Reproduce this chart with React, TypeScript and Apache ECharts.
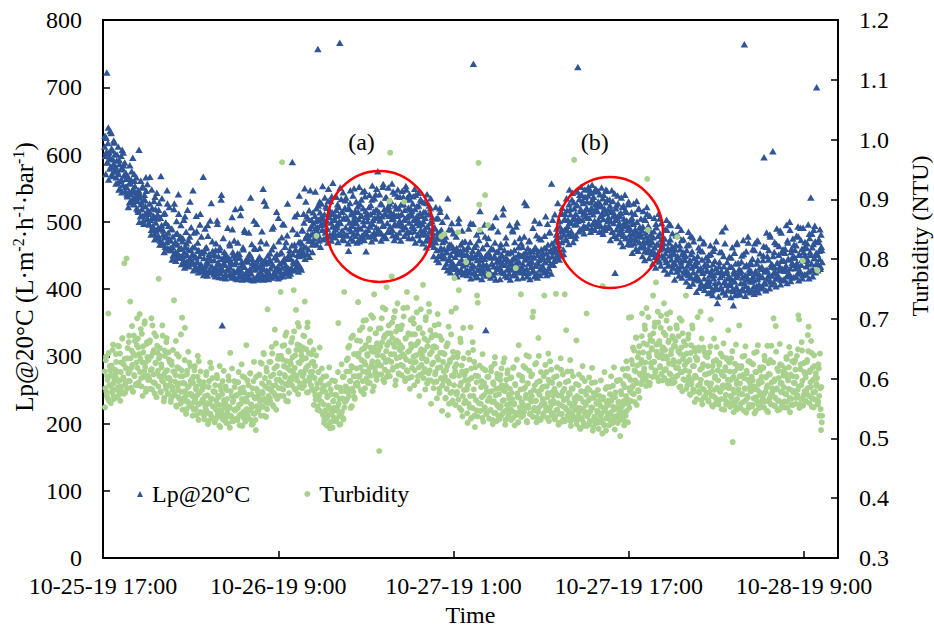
import { useEffect, useRef } from "react";
import * as echarts from "echarts";

// Two interleaved reading streams, each every 4 minutes (stream B 2 minutes after A).
// Time is counted in hours after 10-25-19 17:00.
const FIRST_READING_H = 0.15;
const READING_STEP_H = 4 / 60;
const TIME_AXIS_END_H = 67.1;

// Time axis ticks (hours after start) and their labels
const timeTickHours = [0, 16, 32, 48, 64];
const timeTickLabels = ["10-25-19 17:00", "10-26-19 9:00", "10-27-19 1:00", "10-27-19 17:00", "10-28-19 9:00"];

// Lp@20°C (L·m-2·h-1·bar-1), stream A, one line per hour
const lpA1 = [
  612, 598, 625, 722, 588, 640, 603, 579, 594, 632, 571, 606, 586, 618, 575,
  582, 566, 600, 558, 571, 592, 549, 578, 563, 607, 555, 584, 569, 546, 573,
  552, 538, 567, 545, 529, 558, 541, 575, 533, 549, 526, 561, 537, 544, 520,
  531, 515, 607, 542, 508, 526, 519, 553, 502, 534, 511, 523, 546, 505, 517,
  512, 496, 567, 503, 488, 521, 494, 509, 482, 537, 499, 476, 505, 491, 518,
  489, 472, 568, 495, 466, 481, 512, 477, 463, 498, 470, 527, 484, 458, 475,
  472, 458, 490, 463, 451, 519, 468, 455, 482, 447, 466, 541, 460, 449, 478,
  461, 447, 476, 442, 455, 508, 439, 468, 451, 436, 472, 445, 530, 458, 441,
  452, 547, 438, 463, 430, 447, 486, 441, 458, 433, 449, 512, 437, 455, 429,
  567, 446, 432, 461, 425, 441, 495, 438, 452, 429, 443, 528, 434, 457, 427,
  443, 431, 458, 424, 502, 437, 449, 426, 462, 433, 540, 346, 428, 439, 455,
  436, 452, 421, 444, 429, 446, 468, 432, 441, 423, 489, 450, 427, 437, 519,
  440, 425, 453, 431, 419, 447, 510, 428, 436, 421, 459, 433, 485, 442, 424,
  427, 441, 418, 452, 430, 536, 423, 445, 434, 416, 461, 429, 438, 497, 420,
  432, 419, 448, 426, 471, 437, 422, 549, 430, 417, 443, 524, 428, 439, 421,
  425, 444, 431, 418, 459, 435, 493, 424, 447, 429, 420, 452, 433, 506, 428,
];
const lpA2 = [
  438, 426, 455, 432, 497, 441, 423, 463, 436, 429, 480, 445, 431, 452, 427,
  445, 431, 589, 452, 438, 466, 429, 458, 442, 512, 436, 470, 449, 433, 461,
  468, 487, 455, 499, 550, 476, 462, 508, 481, 459, 517, 490, 472, 503, 466,
  482, 498, 475, 509, 491, 520, 486, 757, 503, 478, 514, 495, 527, 488, 506,
  496, 511, 484, 523, 502, 490, 531, 507, 478, 516, 499, 538, 493, 512, 485,
  503, 489, 518, 496, 526, 481, 510, 766, 498, 534, 487, 515, 505, 473, 521,
  492, 507, 480, 519, 457, 499, 528, 486, 511, 494, 539, 482, 503, 516, 489,
  498, 483, 515, 504, 471, 526, 490, 509, 478, 520, 495, 546, 485, 456, 512,
  501, 488, 522, 494, 511, 479, 533, 497, 515, 484, 506, 541, 492, 518, 575,
  489, 514, 502, 527, 483, 508, 552, 495, 519, 478, 511, 536, 498, 485, 523,
  517, 493, 531, 504, 488, 545, 512, 497, 524, 481, 509, 538, 495, 520, 502,
  498, 526, 511, 489, 537, 503, 518, 492, 548, 507, 485, 521, 499, 533, 510,
  512, 494, 527, 503, 486, 519, 540, 498, 509, 481, 524, 495, 513, 488, 531,
  497, 481, 515, 489, 506, 472, 528, 493, 478, 511, 486, 520, 467, 501, 484,
  478, 463, 492, 470, 505, 458, 484, 449, 475, 520, 461, 488, 453, 470, 446,
  460, 447, 478, 438, 455, 535, 443, 466, 432, 451, 489, 440, 462, 436, 457,
];
const lpA3 = [
  448, 433, 461, 426, 452, 505, 439, 457, 429, 444, 470, 435, 451, 424, 441,
  437, 452, 428, 463, 440, 425, 498, 446, 431, 457, 735, 434, 448, 422, 466,
  443, 429, 456, 437, 516, 424, 449, 432, 461, 427, 445, 478, 339, 436, 452,
  431, 454, 426, 447, 492, 438, 421, 459, 434, 449, 425, 507, 441, 430, 456,
  446, 433, 462, 427, 451, 439, 520, 424, 445, 436, 468, 429, 453, 442, 423,
  438, 455, 429, 444, 486, 433, 458, 421, 447, 436, 499, 428, 452, 440, 425,
  450, 431, 463, 437, 426, 529, 444, 455, 430, 448, 424, 471, 439, 457, 433,
  441, 456, 428, 447, 502, 435, 460, 423, 451, 438, 476, 429, 445, 459, 434,
  447, 432, 461, 440, 508, 453, 427, 466, 443, 484, 436, 458, 557, 449, 437,
  455, 442, 472, 460, 490, 448, 478, 465, 501, 453, 486, 470, 512, 459, 481,
  488, 503, 475, 517, 494, 482, 526, 499, 511, 486, 533, 504, 479, 520, 496,
  512, 497, 525, 730, 506, 534, 489, 519, 541, 503, 528, 494, 515, 537, 508,
  521, 506, 539, 497, 548, 515, 529, 490, 533, 511, 545, 502, 526, 518, 499,
  516, 530, 498, 541, 509, 523, 487, 535, 504, 518, 493, 529, 513, 546, 501,
  507, 492, 524, 501, 515, 486, 531, 498, 512, 424, 520, 489, 506, 527, 494,
  498, 484, 513, 491, 522, 479, 505, 495, 517, 476, 502, 488, 526, 493, 481,
];
const lpA4 = [
  489, 475, 506, 482, 497, 468, 512, 486, 473, 500, 479, 519, 470, 492, 483,
  478, 462, 493, 471, 504, 457, 484, 469, 512, 474, 460, 489, 466, 481, 455,
  470, 455, 486, 462, 448, 497, 466, 452, 479, 443, 505, 459, 474, 450, 463,
  461, 447, 475, 453, 440, 488, 458, 436, 469, 450, 495, 444, 463, 437, 455,
  452, 438, 466, 444, 431, 480, 447, 429, 459, 441, 473, 434, 455, 426, 449,
  443, 427, 458, 435, 421, 466, 439, 418, 452, 432, 477, 425, 446, 416, 437,
  435, 420, 449, 428, 413, 458, 431, 409, 444, 424, 468, 416, 437, 405, 427,
  428, 412, 443, 420, 405, 452, 423, 398, 437, 416, 461, 409, 431, 402, 379,
  425, 410, 440, 418, 403, 455, 421, 396, 434, 412, 492, 406, 428, 399, 416,
  419, 433, 406, 447, 414, 400, 376, 427, 411, 438, 403, 469, 420, 396, 430,
  424, 409, 441, 417, 398, 452, 764, 421, 405, 436, 414, 478, 401, 429, 412,
  427, 411, 445, 419, 404, 458, 423, 399, 438, 415, 471, 407, 432, 418, 402,
  433, 418, 450, 596, 426, 408, 463, 429, 414, 444, 422, 481, 411, 437, 420,
  605, 424, 455, 432, 416, 467, 439, 421, 451, 428, 487, 414, 443, 430, 459,
  442, 427, 460, 435, 419, 472, 445, 424, 500, 431, 455, 417, 448, 436, 466,
  447, 431, 465, 439, 423, 478, 452, 428, 491, 436, 460, 421, 455, 442, 470,
  450, 434, 468, 443, 426, 482, 455, 536, 438, 462, 429, 488, 446, 471, 437,
  700, 452, 437, 474, 445, 430, 481, 458,
];

// Lp@20°C, stream B, one line per hour
const lpB1 = [
  628, 571, 604, 589, 617, 563, 597, 635, 582, 609, 568, 593, 621, 577, 601,
  557, 591, 575, 612, 548, 586, 561, 598, 544, 579, 603, 569, 588, 552, 564,
  541, 568, 522, 557, 584, 531, 562, 546, 595, 527, 571, 553, 534, 566, 539,
  518, 547, 500, 536, 561, 529, 509, 551, 497, 540, 532, 566, 512, 556, 504,
  498, 527, 514, 481, 548, 506, 489, 531, 474, 519, 486, 543, 511, 479, 528,
  466, 506, 491, 535, 469, 487, 455, 513, 499, 479, 547, 461, 494, 522, 460,
  461, 489, 444, 478, 450, 527, 470, 442, 501, 483, 453, 512, 475, 447, 495,
  437, 471, 449, 503, 432, 463, 485, 441, 518, 459, 434, 478, 446, 492, 438,
  462, 428, 484, 450, 433, 509, 440, 469, 425, 457, 496, 431, 478, 454, 427,
  421, 456, 490, 435, 462, 420, 479, 448, 427, 502, 444, 425, 471, 451, 422,
  452, 419, 468, 431, 497, 440, 418, 458, 424, 533, 445, 417, 476, 447, 421,
  416, 450, 429, 491, 443, 421, 465, 438, 417, 507, 455, 419, 472, 446, 416,
  447, 415, 469, 426, 452, 419, 521, 440, 414, 462, 435, 488, 417, 443, 415,
  418, 446, 484, 425, 451, 414, 467, 439, 413, 502, 434, 460, 416, 441, 414,
  445, 417, 461, 433, 416, 486, 442, 414, 531, 438, 418, 468, 424, 450, 415,
  420, 453, 441, 417, 490, 436, 464, 419, 448, 427, 515, 444, 416, 471, 418,
];
const lpB2 = [
  453, 421, 477, 441, 419, 496, 446, 424, 470, 432, 527, 449, 420, 458, 423,
  431, 465, 489, 441, 428, 508, 459, 433, 482, 451, 426, 539, 456, 470, 429,
  488, 451, 512, 463, 445, 530, 479, 452, 505, 472, 448, 547, 481, 494, 455,
  514, 469, 483, 545, 501, 466, 492, 524, 472, 530, 463, 507, 498, 553, 474,
  499, 536, 476, 490, 521, 469, 549, 508, 481, 531, 472, 514, 558, 479, 505,
  477, 509, 537, 492, 470, 522, 501, 551, 481, 515, 474, 544, 506, 482, 532,
  536, 480, 505, 468, 521, 490, 547, 475, 514, 500, 472, 550, 508, 479, 530,
  469, 523, 491, 552, 476, 509, 533, 480, 545, 501, 473, 538, 516, 481, 507,
  511, 478, 540, 493, 525, 471, 554, 503, 482, 535, 475, 518, 549, 484, 508,
  483, 541, 504, 472, 526, 494, 556, 479, 512, 536, 476, 519, 485, 551, 509,
  527, 486, 513, 557, 480, 505, 473, 542, 495, 520, 477, 548, 510, 484, 537,
  472, 512, 546, 494, 526, 479, 504, 553, 483, 536, 509, 476, 541, 485, 519,
  516, 476, 538, 491, 549, 469, 506, 523, 480, 543, 501, 473, 533, 482, 509,
  468, 501, 529, 483, 514, 462, 541, 493, 474, 524, 498, 535, 466, 507, 472,
  449, 490, 470, 522, 444, 478, 506, 440, 484, 515, 451, 460, 500, 446, 475,
  433, 472, 455, 508, 428, 461, 489, 444, 425, 466, 498, 435, 483, 458, 430,
];
const lpB3 = [
  431, 478, 419, 455, 498, 440, 425, 466, 452, 487, 422, 460, 437, 471, 428,
  459, 421, 444, 490, 427, 470, 416, 451, 436, 497, 424, 463, 448, 418, 481,
  418, 452, 473, 429, 443, 486, 415, 461, 437, 423, 496, 449, 420, 467, 434,
  476, 426, 450, 417, 461, 438, 494, 421, 447, 469, 414, 455, 433, 486, 442,
  441, 415, 467, 449, 425, 511, 436, 458, 420, 477, 446, 418, 454, 432, 495,
  414, 455, 438, 488, 421, 447, 470, 426, 493, 440, 416, 462, 431, 476, 449,
  468, 433, 417, 452, 478, 424, 446, 525, 419, 461, 438, 472, 415, 450, 441,
  426, 491, 448, 419, 462, 435, 480, 417, 456, 443, 498, 421, 474, 451, 430,
  453, 425, 479, 440, 461, 421, 497, 448, 431, 485, 456, 423, 468, 503, 436,
  463, 511, 447, 481, 455, 528, 470, 444, 493, 478, 450, 521, 487, 452, 504,
  512, 473, 535, 488, 503, 467, 548, 519, 479, 498, 543, 470, 529, 506, 476,
  480, 525, 545, 501, 486, 540, 516, 552, 489, 532, 511, 483, 548, 492, 519,
  530, 491, 552, 506, 543, 485, 521, 555, 497, 537, 516, 488, 549, 494, 524,
  546, 503, 485, 527, 494, 551, 512, 482, 540, 520, 488, 548, 491, 533, 517,
  494, 533, 473, 518, 547, 485, 508, 479, 542, 503, 524, 476, 539, 482, 511,
  509, 470, 536, 485, 464, 524, 499, 540, 476, 515, 494, 467, 530, 473, 502,
];
const lpB4 = [
  466, 514, 454, 499, 527, 475, 489, 460, 531, 484, 457, 520, 492, 463, 505,
  488, 449, 516, 464, 443, 503, 478, 522, 455, 494, 446, 509, 473, 481, 452,
  438, 477, 506, 453, 432, 492, 444, 467, 512, 441, 483, 435, 498, 470, 462,
  468, 429, 489, 444, 503, 423, 461, 435, 497, 474, 426, 458, 483, 432, 453,
  414, 459, 480, 426, 449, 494, 420, 465, 435, 488, 417, 452, 474, 444, 423,
  450, 411, 465, 426, 485, 405, 443, 479, 417, 456, 408, 471, 435, 414, 440,
  396, 441, 417, 462, 402, 476, 431, 405, 456, 426, 470, 399, 434, 447, 408,
  436, 394, 451, 412, 465, 397, 429, 391, 457, 421, 442, 403, 471, 400, 426,
  389, 434, 455, 401, 427, 486, 395, 449, 410, 468, 392, 424, 440, 398, 419,
  448, 409, 388, 433, 462, 397, 423, 454, 391, 418, 467, 400, 439, 394, 426,
  392, 427, 450, 401, 473, 410, 434, 390, 456, 419, 398, 469, 424, 395, 440,
  437, 398, 459, 413, 393, 468, 427, 404, 472, 443, 395, 422, 453, 401, 430,
  404, 443, 464, 410, 428, 398, 484, 449, 419, 458, 401, 478, 433, 407, 436,
  449, 410, 470, 425, 404, 490, 439, 416, 464, 434, 407, 484, 455, 413, 442,
  415, 454, 430, 495, 409, 469, 444, 421, 488, 412, 460, 439, 475, 418, 447,
  458, 419, 479, 434, 493, 413, 451, 425, 473, 443, 416, 491, 448, 422, 464,
  422, 461, 437, 496, 416, 476, 451, 428, 482, 419, 467, 446, 494, 425, 454,
  451, 428, 470, 457, 489, 433, 463, 440,
];

// Turbidity (NTU), stream A, one line per hour
const turbA1 = [
  0.612, 0.584, 0.637, 0.571, 0.598, 0.709, 0.563, 0.621, 0.589, 0.605, 0.577, 0.648, 0.592, 0.566, 0.615,
  0.603, 0.628, 0.581, 0.655, 0.596, 0.573, 0.642, 0.611, 0.587, 0.667, 0.599, 0.624, 0.793, 0.576, 0.618,
  0.801, 0.634, 0.596, 0.661, 0.612, 0.729, 0.585, 0.647, 0.623, 0.578, 0.672, 0.604, 0.639, 0.591, 0.656,
  0.618, 0.652, 0.589, 0.708, 0.633, 0.601, 0.675, 0.571, 0.644, 0.612, 0.696, 0.627, 0.583, 0.661, 0.605,
  0.631, 0.598, 0.664, 0.614, 0.701, 0.582, 0.643, 0.607, 0.676, 0.592, 0.627, 0.569, 0.655, 0.613, 0.767,
  0.604, 0.638, 0.577, 0.619, 0.689, 0.595, 0.562, 0.647, 0.611, 0.583, 0.668, 0.601, 0.574, 0.632, 0.589,
  0.597, 0.566, 0.623, 0.581, 0.612, 0.731, 0.574, 0.606, 0.555, 0.641, 0.588, 0.569, 0.617, 0.592, 0.558,
  0.578, 0.702, 0.604, 0.563, 0.592, 0.685, 0.571, 0.549, 0.613, 0.586, 0.559, 0.627, 0.574, 0.596, 0.553,
  0.571, 0.593, 0.548, 0.614, 0.565, 0.582, 0.539, 0.603, 0.557, 0.629, 0.576, 0.544, 0.591, 0.562, 0.583,
  0.561, 0.538, 0.587, 0.553, 0.606, 0.545, 0.572, 0.529, 0.596, 0.558, 0.541, 0.618, 0.566, 0.533, 0.579,
  0.554, 0.578, 0.532, 0.563, 0.601, 0.541, 0.569, 0.521, 0.588, 0.547, 0.535, 0.574, 0.556, 0.613, 0.538,
  0.559, 0.534, 0.581, 0.546, 0.525, 0.597, 0.552, 0.643, 0.538, 0.571, 0.529, 0.564, 0.548, 0.586, 0.531,
  0.549, 0.572, 0.531, 0.594, 0.556, 0.522, 0.583, 0.541, 0.566, 0.604, 0.535, 0.577, 0.544, 0.562, 0.656,
  0.562, 0.538, 0.589, 0.547, 0.609, 0.531, 0.574, 0.552, 0.524, 0.596, 0.541, 0.567, 0.514, 0.583, 0.545,
  0.571, 0.549, 0.606, 0.562, 0.538, 0.625, 0.578, 0.553, 0.641, 0.566, 0.587, 0.536, 0.612, 0.716, 0.559,
  0.594, 0.567, 0.628, 0.581, 0.653, 0.556, 0.607, 0.576, 0.682, 0.589, 0.548, 0.621, 0.571, 0.638, 0.598,
];
const turbA2 = [
  0.609, 0.745, 0.584, 0.962, 0.632, 0.571, 0.656, 0.603, 0.591, 0.677, 0.618, 0.562, 0.645, 0.596, 0.629,
  0.624, 0.598, 0.668, 0.611, 0.748, 0.583, 0.639, 0.715, 0.605, 0.657, 0.574, 0.687, 0.626, 0.592, 0.646,
  0.631, 0.604, 0.672, 0.588, 0.729, 0.615, 0.649, 0.577, 0.694, 0.622, 0.596, 0.661, 0.611, 0.641, 0.582,
  0.603, 0.648, 0.579, 0.621, 0.565, 0.839, 0.592, 0.554, 0.611, 0.573, 0.546, 0.598, 0.561, 0.583, 0.539,
  0.557, 0.531, 0.578, 0.546, 0.522, 0.569, 0.538, 0.591, 0.551, 0.527, 0.574, 0.543, 0.518, 0.562, 0.535,
  0.548, 0.573, 0.529, 0.586, 0.553, 0.693, 0.537, 0.566, 0.524, 0.579, 0.545, 0.603, 0.532, 0.745, 0.561,
  0.587, 0.612, 0.566, 0.634, 0.578, 0.655, 0.596, 0.551, 0.621, 0.583, 0.672, 0.604, 0.569, 0.641, 0.592,
  0.617, 0.593, 0.728, 0.642, 0.605, 0.663, 0.581, 0.631, 0.686, 0.612, 0.574, 0.651, 0.624, 0.698, 0.601,
  0.638, 0.612, 0.667, 0.593, 0.652, 0.706, 0.624, 0.579, 0.645, 0.741, 0.618, 0.676, 0.603, 0.659, 0.628,
  0.647, 0.479, 0.622, 0.684, 0.607, 0.661, 0.719, 0.635, 0.594, 0.673, 0.628, 0.753, 0.656, 0.611, 0.689,
  0.897, 0.978, 0.641, 0.771, 0.668, 0.618, 0.702, 0.653, 0.589, 0.679, 0.634, 0.726, 0.661, 0.607, 0.648,
  0.656, 0.623, 0.689, 0.641, 0.718, 0.896, 0.601, 0.667, 0.632, 0.745, 0.612, 0.676, 0.646, 0.583, 0.698,
  0.652, 0.618, 0.701, 0.637, 0.589, 0.674, 0.628, 0.735, 0.659, 0.604, 0.684, 0.571, 0.643, 0.716, 0.623,
  0.638, 0.757, 0.611, 0.667, 0.582, 0.703, 0.629, 0.654, 0.597, 0.725, 0.614, 0.681, 0.558, 0.645, 0.673,
  0.627, 0.594, 0.689, 0.611, 0.652, 0.567, 0.708, 0.632, 0.583, 0.671, 0.619, 0.838, 0.546, 0.643, 0.596,
  0.842, 0.603, 0.568, 0.654, 0.621, 0.539, 0.687, 0.592, 0.631, 0.559, 0.712, 0.578, 0.645, 0.604, 0.768,
];
const turbA3 = [
  0.612, 0.718, 0.574, 0.636, 0.845, 0.748, 0.551, 0.667, 0.593, 0.622, 0.537, 0.685, 0.581, 0.606, 0.563,
  0.795, 0.582, 0.526, 0.643, 0.598, 0.552, 0.686, 0.617, 0.535, 0.661, 0.571, 0.628, 0.519, 0.605, 0.547,
  0.739, 0.727, 0.961, 0.891, 0.849, 0.558, 0.596, 0.534, 0.617, 0.572, 0.549, 0.907, 0.586, 0.541, 0.603,
  0.857, 0.774, 0.568, 0.547, 0.612, 0.579, 0.531, 0.594, 0.562, 0.625, 0.543, 0.583, 0.557, 0.601, 0.538,
  0.574, 0.551, 0.606, 0.538, 0.589, 0.563, 0.627, 0.545, 0.579, 0.531, 0.598, 0.556, 0.614, 0.541, 0.567,
  0.583, 0.549, 0.602, 0.566, 0.534, 0.619, 0.557, 0.591, 0.785, 0.543, 0.575, 0.527, 0.656, 0.568, 0.544,
  0.741, 0.561, 0.597, 0.538, 0.583, 0.552, 0.618, 0.573, 0.529, 0.592, 0.555, 0.637, 0.566, 0.541, 0.604,
  0.571, 0.703, 0.712, 0.547, 0.589, 0.563, 0.626, 0.535, 0.578, 0.668, 0.552, 0.596, 0.531, 0.582, 0.558,
  0.566, 0.542, 0.739, 0.587, 0.553, 0.611, 0.534, 0.576, 0.598, 0.547, 0.629, 0.561, 0.538, 0.593, 0.572,
  0.559, 0.583, 0.537, 0.742, 0.604, 0.548, 0.572, 0.526, 0.591, 0.556, 0.615, 0.541, 0.578, 0.532, 0.564,
  0.741, 0.551, 0.681, 0.567, 0.538, 0.596, 0.545, 0.574, 0.529, 0.612, 0.553, 0.583, 0.536, 0.966, 0.561,
  0.548, 0.664, 0.571, 0.532, 0.589, 0.544, 0.518, 0.567, 0.534, 0.601, 0.549, 0.526, 0.578, 0.541, 0.556,
  0.709, 0.537, 0.563, 0.524, 0.581, 0.545, 0.529, 0.593, 0.551, 0.519, 0.568, 0.536, 0.574, 0.531, 0.558,
  0.544, 0.562, 0.527, 0.571, 0.538, 0.553, 0.531, 0.755, 0.565, 0.522, 0.547, 0.583, 0.534, 0.559, 0.541,
  0.556, 0.532, 0.574, 0.541, 0.563, 0.525, 0.588, 0.548, 0.536, 0.569, 0.529, 0.552, 0.597, 0.539, 0.561,
  0.547, 0.504, 0.579, 0.553, 0.538, 0.591, 0.563, 0.529, 0.605, 0.571, 0.546, 0.617, 0.558, 0.702, 0.584,
];
const turbA4 = [
  0.598, 0.703, 0.576, 0.624, 0.589, 0.647, 0.561, 0.612, 0.668, 0.593, 0.636, 0.579, 0.654, 0.608, 0.625,
  0.631, 0.709, 0.604, 0.659, 0.617, 0.683, 0.598, 0.718, 0.934, 0.849, 0.642, 0.589, 0.672, 0.626, 0.651,
  0.663, 0.739, 0.628, 0.687, 0.611, 0.761, 0.645, 0.602, 0.694, 0.636, 0.658, 0.619, 0.705, 0.641, 0.597,
  0.652, 0.726, 0.614, 0.673, 0.637, 0.708, 0.596, 0.661, 0.625, 0.684, 0.607, 0.648, 0.592, 0.669, 0.631,
  0.627, 0.654, 0.603, 0.689, 0.837, 0.618, 0.671, 0.586, 0.642, 0.611, 0.697, 0.579, 0.633, 0.662, 0.598,
  0.614, 0.739, 0.642, 0.589, 0.667, 0.603, 0.631, 0.573, 0.656, 0.598, 0.684, 0.582, 0.621, 0.561, 0.646,
  0.602, 0.631, 0.703, 0.578, 0.647, 0.591, 0.712, 0.564, 0.618, 0.583, 0.652, 0.569, 0.607, 0.638, 0.576,
  0.593, 0.621, 0.562, 0.644, 0.587, 0.699, 0.571, 0.612, 0.553, 0.629, 0.581, 0.604, 0.567, 0.653, 0.584,
  0.597, 0.563, 0.626, 0.578, 0.611, 0.549, 0.637, 0.585, 0.604, 0.566, 0.619, 0.557, 0.589, 0.632, 0.681,
  0.588, 0.612, 0.571, 0.634, 0.559, 0.494, 0.603, 0.576, 0.625, 0.553, 0.597, 0.566, 0.618, 0.582, 0.689,
  0.592, 0.558, 0.621, 0.574, 0.606, 0.547, 0.638, 0.583, 0.564, 0.613, 0.571, 0.598, 0.551, 0.629, 0.586,
  0.579, 0.603, 0.556, 0.624, 0.587, 0.542, 0.611, 0.569, 0.645, 0.581, 0.557, 0.596, 0.573, 0.614, 0.561,
  0.594, 0.567, 0.618, 0.552, 0.631, 0.578, 0.603, 0.546, 0.589, 0.626, 0.561, 0.607, 0.573, 0.655, 0.584,
  0.571, 0.701, 0.596, 0.554, 0.688, 0.582, 0.617, 0.563, 0.601, 0.548, 0.624, 0.578, 0.593, 0.559, 0.612,
  0.586, 0.562, 0.609, 0.574, 0.633, 0.551, 0.597, 0.619, 0.568, 0.642, 0.581, 0.556, 0.604, 0.577, 0.627,
  0.593, 0.615, 0.568, 0.638, 0.581, 0.706, 0.699, 0.557, 0.624, 0.589, 0.647, 0.797, 0.572, 0.611, 0.563,
  0.602, 0.576, 0.631, 0.673, 0.687, 0.559, 0.614, 0.586, 0.643, 0.567, 0.598, 0.552, 0.621, 0.578, 0.609,
  0.591, 0.781, 0.562, 0.617, 0.538, 0.584, 0.514, 0.527,
];

// Turbidity (NTU), stream B, one line per hour
const turbB1 = [
  0.552, 0.631, 0.578, 0.604, 0.567, 0.643, 0.589, 0.614, 0.559, 0.622, 0.583, 0.657, 0.571, 0.598, 0.609,
  0.641, 0.569, 0.612, 0.586, 0.654, 0.597, 0.563, 0.627, 0.578, 0.668, 0.602, 0.575, 0.633, 0.591, 0.617,
  0.583, 0.651, 0.609, 0.672, 0.596, 0.634, 0.618, 0.688, 0.579, 0.642, 0.606, 0.663, 0.589, 0.627, 0.701,
  0.667, 0.594, 0.641, 0.611, 0.683, 0.587, 0.627, 0.654, 0.603, 0.692, 0.619, 0.578, 0.658, 0.636, 0.598,
  0.602, 0.661, 0.583, 0.637, 0.616, 0.689, 0.594, 0.648, 0.575, 0.626, 0.671, 0.609, 0.643, 0.587, 0.634,
  0.651, 0.579, 0.624, 0.597, 0.672, 0.606, 0.568, 0.638, 0.589, 0.661, 0.614, 0.575, 0.644, 0.601, 0.627,
  0.561, 0.629, 0.586, 0.648, 0.572, 0.611, 0.595, 0.663, 0.553, 0.619, 0.581, 0.637, 0.566, 0.604, 0.674,
  0.614, 0.548, 0.593, 0.567, 0.631, 0.579, 0.541, 0.607, 0.562, 0.645, 0.588, 0.555, 0.621, 0.574, 0.599,
  0.538, 0.603, 0.561, 0.621, 0.549, 0.587, 0.572, 0.638, 0.531, 0.596, 0.558, 0.612, 0.543, 0.581, 0.565,
  0.594, 0.532, 0.571, 0.548, 0.611, 0.559, 0.524, 0.586, 0.541, 0.627, 0.567, 0.536, 0.601, 0.553, 0.578,
  0.527, 0.589, 0.548, 0.606, 0.536, 0.571, 0.556, 0.621, 0.519, 0.581, 0.542, 0.596, 0.531, 0.564, 0.552,
  0.587, 0.526, 0.566, 0.541, 0.604, 0.553, 0.518, 0.579, 0.536, 0.617, 0.561, 0.529, 0.596, 0.547, 0.572,
  0.533, 0.594, 0.551, 0.611, 0.539, 0.576, 0.558, 0.624, 0.521, 0.585, 0.545, 0.602, 0.528, 0.567, 0.549,
  0.597, 0.535, 0.573, 0.548, 0.609, 0.557, 0.523, 0.584, 0.542, 0.628, 0.569, 0.531, 0.603, 0.554, 0.579,
  0.546, 0.607, 0.566, 0.627, 0.553, 0.592, 0.575, 0.643, 0.538, 0.601, 0.561, 0.618, 0.549, 0.584, 0.571,
  0.628, 0.562, 0.604, 0.579, 0.642, 0.588, 0.553, 0.617, 0.571, 0.659, 0.598, 0.566, 0.633, 0.584, 0.609,
];
const turbB2 = [
  0.571, 0.638, 0.594, 0.655, 0.582, 0.621, 0.606, 0.672, 0.563, 0.629, 0.589, 0.647, 0.576, 0.614, 0.601,
  0.661, 0.589, 0.636, 0.604, 0.679, 0.618, 0.581, 0.648, 0.597, 0.693, 0.627, 0.586, 0.655, 0.611, 0.639,
  0.584, 0.652, 0.608, 0.671, 0.596, 0.634, 0.619, 0.686, 0.577, 0.643, 0.602, 0.663, 0.589, 0.627, 0.612,
  0.628, 0.556, 0.601, 0.572, 0.639, 0.584, 0.548, 0.611, 0.565, 0.652, 0.593, 0.561, 0.617, 0.579, 0.603,
  0.526, 0.588, 0.547, 0.604, 0.534, 0.571, 0.555, 0.619, 0.517, 0.582, 0.541, 0.597, 0.529, 0.563, 0.551,
  0.596, 0.531, 0.572, 0.546, 0.611, 0.558, 0.523, 0.585, 0.539, 0.624, 0.567, 0.534, 0.603, 0.552, 0.579,
  0.563, 0.631, 0.584, 0.652, 0.571, 0.612, 0.596, 0.668, 0.554, 0.619, 0.578, 0.641, 0.566, 0.604, 0.589,
  0.664, 0.588, 0.637, 0.603, 0.681, 0.619, 0.579, 0.649, 0.596, 0.697, 0.628, 0.584, 0.656, 0.611, 0.641,
  0.593, 0.664, 0.618, 0.683, 0.605, 0.646, 0.629, 0.702, 0.587, 0.652, 0.611, 0.676, 0.598, 0.639, 0.624,
  0.684, 0.607, 0.653, 0.622, 0.701, 0.638, 0.598, 0.669, 0.615, 0.716, 0.646, 0.603, 0.676, 0.631, 0.661,
  0.604, 0.676, 0.628, 0.694, 0.615, 0.658, 0.641, 0.713, 0.597, 0.664, 0.621, 0.687, 0.609, 0.651, 0.636,
  0.683, 0.606, 0.652, 0.621, 0.704, 0.637, 0.596, 0.668, 0.614, 0.719, 0.645, 0.601, 0.674, 0.629, 0.658,
  0.603, 0.674, 0.627, 0.692, 0.614, 0.656, 0.639, 0.711, 0.596, 0.662, 0.619, 0.685, 0.607, 0.649, 0.634,
  0.676, 0.601, 0.647, 0.616, 0.698, 0.632, 0.592, 0.663, 0.609, 0.712, 0.641, 0.597, 0.669, 0.624, 0.653,
  0.584, 0.654, 0.607, 0.673, 0.595, 0.636, 0.618, 0.691, 0.576, 0.643, 0.601, 0.665, 0.589, 0.628, 0.612,
  0.641, 0.567, 0.614, 0.583, 0.659, 0.596, 0.558, 0.627, 0.576, 0.674, 0.605, 0.563, 0.636, 0.589, 0.619,
];
const turbB3 = [
  0.556, 0.624, 0.578, 0.643, 0.565, 0.605, 0.588, 0.661, 0.547, 0.612, 0.571, 0.634, 0.559, 0.597, 0.582,
  0.613, 0.542, 0.589, 0.558, 0.632, 0.571, 0.533, 0.601, 0.551, 0.648, 0.582, 0.538, 0.619, 0.564, 0.594,
  0.537, 0.604, 0.559, 0.622, 0.546, 0.586, 0.569, 0.641, 0.528, 0.593, 0.552, 0.614, 0.541, 0.578, 0.563,
  0.603, 0.533, 0.578, 0.548, 0.619, 0.561, 0.524, 0.591, 0.542, 0.636, 0.572, 0.529, 0.608, 0.554, 0.584,
  0.532, 0.598, 0.554, 0.617, 0.541, 0.581, 0.564, 0.634, 0.523, 0.588, 0.547, 0.609, 0.536, 0.573, 0.558,
  0.601, 0.531, 0.576, 0.545, 0.618, 0.559, 0.522, 0.589, 0.539, 0.632, 0.569, 0.527, 0.606, 0.552, 0.582,
  0.536, 0.603, 0.558, 0.621, 0.545, 0.585, 0.568, 0.639, 0.527, 0.592, 0.551, 0.613, 0.541, 0.577, 0.562,
  0.607, 0.536, 0.581, 0.551, 0.624, 0.563, 0.527, 0.594, 0.544, 0.638, 0.573, 0.532, 0.611, 0.556, 0.586,
  0.538, 0.604, 0.559, 0.623, 0.547, 0.587, 0.569, 0.642, 0.529, 0.594, 0.553, 0.615, 0.542, 0.578, 0.563,
  0.602, 0.532, 0.577, 0.547, 0.619, 0.559, 0.523, 0.590, 0.541, 0.634, 0.571, 0.528, 0.607, 0.553, 0.583,
  0.529, 0.594, 0.548, 0.612, 0.537, 0.576, 0.559, 0.631, 0.521, 0.584, 0.543, 0.604, 0.532, 0.567, 0.553,
  0.591, 0.524, 0.567, 0.538, 0.607, 0.551, 0.516, 0.579, 0.532, 0.621, 0.561, 0.521, 0.596, 0.544, 0.573,
  0.521, 0.584, 0.541, 0.602, 0.529, 0.567, 0.552, 0.618, 0.513, 0.576, 0.536, 0.594, 0.525, 0.559, 0.546,
  0.581, 0.516, 0.557, 0.529, 0.597, 0.542, 0.508, 0.569, 0.524, 0.611, 0.551, 0.513, 0.586, 0.535, 0.563,
  0.522, 0.586, 0.543, 0.604, 0.531, 0.568, 0.553, 0.619, 0.515, 0.577, 0.537, 0.596, 0.526, 0.561, 0.547,
  0.598, 0.531, 0.574, 0.544, 0.616, 0.557, 0.522, 0.586, 0.538, 0.629, 0.566, 0.527, 0.603, 0.551, 0.579,
];
const turbB4 = [
  0.563, 0.631, 0.586, 0.652, 0.574, 0.614, 0.597, 0.669, 0.556, 0.622, 0.581, 0.643, 0.568, 0.606, 0.591,
  0.671, 0.597, 0.644, 0.612, 0.689, 0.627, 0.588, 0.657, 0.605, 0.703, 0.636, 0.593, 0.664, 0.619, 0.649,
  0.603, 0.676, 0.628, 0.694, 0.614, 0.657, 0.639, 0.712, 0.596, 0.663, 0.621, 0.685, 0.608, 0.649, 0.634,
  0.677, 0.601, 0.648, 0.616, 0.697, 0.633, 0.592, 0.664, 0.609, 0.711, 0.641, 0.598, 0.671, 0.624, 0.655,
  0.594, 0.663, 0.618, 0.684, 0.605, 0.646, 0.628, 0.701, 0.587, 0.652, 0.611, 0.676, 0.599, 0.639, 0.623,
  0.656, 0.583, 0.628, 0.597, 0.674, 0.612, 0.574, 0.643, 0.591, 0.689, 0.621, 0.578, 0.651, 0.605, 0.636,
  0.566, 0.633, 0.588, 0.652, 0.576, 0.615, 0.598, 0.667, 0.557, 0.624, 0.582, 0.644, 0.569, 0.607, 0.593,
  0.636, 0.563, 0.609, 0.578, 0.654, 0.592, 0.555, 0.621, 0.571, 0.667, 0.601, 0.558, 0.631, 0.585, 0.614,
  0.557, 0.623, 0.579, 0.642, 0.566, 0.606, 0.589, 0.659, 0.548, 0.614, 0.573, 0.634, 0.561, 0.598, 0.584,
  0.627, 0.553, 0.598, 0.568, 0.646, 0.582, 0.544, 0.612, 0.561, 0.657, 0.591, 0.549, 0.621, 0.575, 0.604,
  0.551, 0.618, 0.574, 0.637, 0.561, 0.601, 0.584, 0.654, 0.543, 0.609, 0.568, 0.629, 0.556, 0.593, 0.579,
  0.626, 0.554, 0.597, 0.567, 0.643, 0.583, 0.546, 0.611, 0.562, 0.656, 0.591, 0.551, 0.619, 0.576, 0.603,
  0.553, 0.619, 0.573, 0.638, 0.562, 0.602, 0.585, 0.655, 0.544, 0.608, 0.567, 0.631, 0.557, 0.594, 0.578,
  0.627, 0.555, 0.599, 0.568, 0.645, 0.584, 0.547, 0.613, 0.563, 0.658, 0.592, 0.552, 0.622, 0.577, 0.605,
  0.552, 0.617, 0.574, 0.636, 0.561, 0.601, 0.583, 0.653, 0.544, 0.607, 0.566, 0.629, 0.556, 0.593, 0.579,
  0.631, 0.558, 0.603, 0.572, 0.649, 0.587, 0.551, 0.616, 0.566, 0.661, 0.596, 0.555, 0.626, 0.579, 0.608,
  0.562, 0.628, 0.584, 0.646, 0.571, 0.611, 0.594, 0.663, 0.553, 0.618, 0.577, 0.639, 0.565, 0.603, 0.588,
  0.601, 0.557, 0.624, 0.571, 0.642, 0.549, 0.586, 0.538,
];

// Highlighted periods: centre (hours, Lp) and the label placed above each
const highlightLabels = ["(a)", "(b)"];
const highlightCentres = [[25.24, 493], [46.28, 484]];
const highlightLabelAt = [[23.6, 618], [44.9, 618]];

const FONT = '"Liberation Serif", "Times New Roman", serif';
const BLUE = "#2F5597";
const GREEN = "#A9D18E";

const toSeries = (values: number[], offsetH: number) =>
  values.map((v, i) => [FIRST_READING_H + offsetH + i * READING_STEP_H, v]);

const lpData = [
  ...toSeries([...lpA1, ...lpA2, ...lpA3, ...lpA4], 0),
  ...toSeries([...lpB1, ...lpB2, ...lpB3, ...lpB4], READING_STEP_H / 2),
];
const turbData = [
  ...toSeries([...turbA1, ...turbA2, ...turbA3, ...turbA4], 0),
  ...toSeries([...turbB1, ...turbB2, ...turbB3, ...turbB4], READING_STEP_H / 2),
];

const axisLine = { show: true, lineStyle: { color: "#000", width: 2 } };
const axisTick = { show: true, inside: true, length: 7, lineStyle: { color: "#000", width: 1.5 } };
const labelText = { fontFamily: FONT, fontSize: 24, color: "#000" };

const option = {
  animation: false,
  backgroundColor: "#fff",
  grid: {
    left: 103,
    top: 20,
    width: 735,
    height: 538,
    outerBoundsMode: "none",
    containLabel: false,
    show: true,
    borderColor: "#000",
    borderWidth: 2,
  },
  legend: {
    left: 132,
    top: 477,
    itemWidth: 6,
    itemHeight: 6,
    itemGap: 54,
    textStyle: { ...labelText, padding: [0, 0, 0, 4] },
    data: ["Lp@20°C", "Turbidity"],
  },
  xAxis: {
    type: "value",
    min: 0,
    max: TIME_AXIS_END_H,
    interval: 16,
    axisLine,
    axisTick,
    splitLine: { show: false },
    axisLabel: {
      ...labelText,
      margin: 16,
      showMaxLabel: false,
      formatter: (v: number) => {
        const i = timeTickHours.indexOf(v);
        return i >= 0 ? timeTickLabels[i] : "";
      },
    },
    name: "Time",
    nameLocation: "middle",
    nameGap: 40,
    nameTextStyle: { ...labelText },
  },
  yAxis: [
    {
      type: "value",
      min: 0,
      max: 800,
      interval: 100,
      position: "left",
      axisLine,
      axisTick,
      splitLine: { show: false },
      axisLabel: { ...labelText, margin: 21 },
    },
    {
      type: "value",
      min: 0.3,
      max: 1.2,
      interval: 0.1,
      position: "right",
      axisLine,
      axisTick,
      splitLine: { show: false },
      axisLabel: { ...labelText, margin: 21, formatter: (v: number) => v.toFixed(1) },
    },
  ],
  series: [
    {
      name: "Lp@20°C",
      type: "scatter",
      yAxisIndex: 0,
      symbol: "triangle",
      symbolSize: [7.5, 6.5],
      large: false,
      progressive: 0,
      itemStyle: { color: BLUE, opacity: 1 },
      data: lpData,
    },
    {
      name: "Turbidity",
      type: "scatter",
      yAxisIndex: 1,
      symbol: "circle",
      symbolSize: 6,
      large: false,
      progressive: 0,
      itemStyle: { color: GREEN, opacity: 1 },
      data: turbData,
    },
  ],
};

export default function App() {
  const ref = useRef<HTMLDivElement>(null);

  useEffect(() => {
    const el = ref.current;
    if (!el) return;
    const chart = echarts.init(el, null, { renderer: "svg" });
    chart.setOption(option);

    const elements: any[] = [
      {
        type: "text",
        x: 24,
        y: 277,
        rotation: Math.PI / 2,
        silent: true,
        style: {
          text: "Lp@20°C (L·m{sup|-2}·h{sup|-1}·bar{sup|-1})",
          fontFamily: FONT,
          fontSize: 25,
          lineHeight: 28,
          fill: "#000",
          align: "center",
          verticalAlign: "middle",
          textAlign: "center",
          textVerticalAlign: "middle",
          rich: {
            sup: { fontFamily: FONT, fontSize: 16, lineHeight: 18, verticalAlign: "top", fill: "#000" },
          },
        },
      },
      {
        type: "text",
        x: 920,
        y: 236,
        rotation: Math.PI / 2,
        silent: true,
        style: {
          text: "Turbidity (NTU)",
          fontFamily: FONT,
          fontSize: 24,
          lineHeight: 24,
          fill: "#000",
          align: "center",
          verticalAlign: "middle",
          textAlign: "center",
          textVerticalAlign: "middle",
        },
      },
    ];

    highlightCentres.forEach((c, i) => {
      const [cx, cy] = chart.convertToPixel({ seriesIndex: 0 }, c) as number[];
      const [lx, ly] = chart.convertToPixel({ seriesIndex: 0 }, highlightLabelAt[i]) as number[];
      elements.push({
        type: "ellipse",
        silent: true,
        z: 10,
        shape: { cx, cy, rx: 53, ry: 55.5 },
        style: { fill: "none", stroke: "#FF0000", lineWidth: 2.5 },
      });
      elements.push({
        type: "text",
        x: lx,
        y: ly,
        silent: true,
        z: 10,
        style: {
          text: highlightLabels[i],
          fontFamily: FONT,
          fontSize: 24,
          fill: "#000",
          align: "center",
          verticalAlign: "middle",
          textAlign: "center",
          textVerticalAlign: "middle",
        },
      });
    });

    chart.setOption({ graphic: { elements } });

    return () => chart.dispose();
  }, []);

  return (
    <div
      ref={ref}
      style={{ position: "fixed", left: 0, top: 0, width: 934, height: 628, background: "#fff" }}
    />
  );
}
